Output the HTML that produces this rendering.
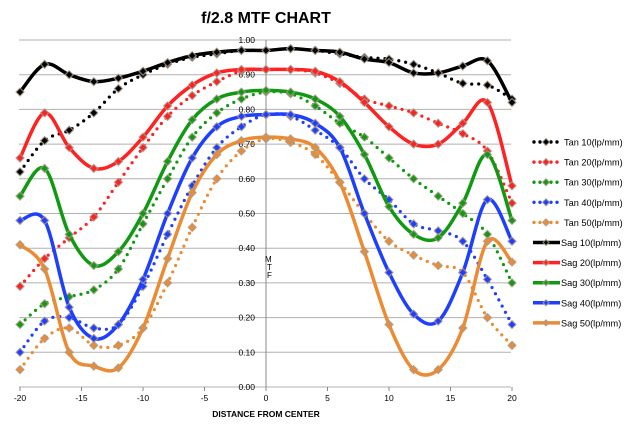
<!DOCTYPE html>
<html><head><meta charset="utf-8"><style>
body{margin:0;background:#fff;width:630px;height:429px;overflow:hidden;font-family:"Liberation Sans",sans-serif}
</style></head><body>
<svg id="s" width="630" height="429" xmlns="http://www.w3.org/2000/svg" font-family="Liberation Sans, sans-serif">
<text x="266" y="23" text-anchor="middle" font-size="16" font-weight="bold">f/2.8 MTF CHART</text>
<g id="grid"></g>
<g id="lines"></g>
<text x="266" y="417" text-anchor="middle" font-size="8.5" font-weight="bold">DISTANCE FROM CENTER</text>
<text x="265" y="262" font-size="8">M</text>
<text x="267" y="270" font-size="8">T</text>
<text x="267" y="278" font-size="8">F</text>
<g id="leg" font-size="9.2"></g>
</svg>
<script>
var NS="http://www.w3.org/2000/svg";
function el(t,a,p,txt){var e=document.createElementNS(NS,t);for(var k in a)e.setAttribute(k,a[k]);if(txt!=null)e.textContent=txt;p.appendChild(e);return e;}
function X(x){return 266+12.3*x;}function Y(v){return 387-347*v;}
var g=document.getElementById('grid');
for(var i=0;i<=10;i++){var y=Y(i/10);
 el('line',{x1:19,x2:511,y1:y,y2:y,stroke:'#b0b0b0','stroke-width':1},g);
 el('text',{x:255,y:y+3,'text-anchor':'end','font-size':'8.5'},g,(i/10).toFixed(2));}
el('line',{x1:266,x2:266,y1:40,y2:387,stroke:'#888','stroke-width':1},g);
for(var x=-20;x<=20;x+=5){el('line',{x1:X(x),x2:X(x),y1:387,y2:391,stroke:'#888'},g);
 el('text',{x:X(x),y:401,'text-anchor':'middle','font-size':'8.5'},g,String(x));}
var D={
t10:[.62,.71,.74,.79,.86,.90,.93,.95,.96,.97,.97,.975,.97,.96,.95,.945,.93,.905,.875,.87,.83],
t20:[.29,.37,.43,.49,.59,.69,.78,.84,.88,.91,.915,.915,.905,.875,.83,.81,.79,.76,.73,.68,.53],
t30:[.18,.24,.26,.28,.34,.47,.60,.72,.79,.83,.85,.845,.81,.76,.72,.66,.60,.55,.50,.44,.30],
t40:[.10,.19,.20,.17,.18,.29,.44,.58,.69,.75,.785,.78,.74,.69,.60,.54,.47,.45,.42,.31,.18],
t50:[.05,.14,.17,.12,.12,.17,.30,.46,.60,.68,.715,.705,.67,.59,.50,.42,.38,.35,.33,.20,.12],
s10:[.85,.93,.90,.88,.89,.91,.935,.955,.965,.97,.97,.975,.97,.965,.945,.935,.905,.905,.925,.94,.82],
s20:[.66,.79,.69,.63,.65,.72,.81,.87,.905,.915,.915,.915,.91,.88,.82,.75,.70,.70,.76,.82,.58],
s30:[.55,.63,.44,.35,.39,.50,.65,.77,.83,.85,.855,.85,.83,.78,.67,.52,.44,.43,.53,.67,.48],
s40:[.48,.48,.23,.14,.18,.31,.50,.66,.75,.78,.785,.785,.76,.69,.50,.33,.21,.19,.33,.54,.42],
s50:[.41,.34,.10,.06,.055,.17,.37,.56,.67,.71,.72,.715,.69,.59,.39,.18,.05,.05,.17,.42,.36]};
var C={1:'#000',2:'#f22',3:'#119911',4:'#1f3fff',5:'#eb8c35'};
function path(v){var p=v.map(function(y,i){return [X(-20+2*i),Y(y)];});var d='M'+p[0][0]+' '+p[0][1];
 for(var i=0;i<p.length-1;i++){var a=p[Math.max(0,i-1)],b=p[i],c=p[i+1],e=p[Math.min(p.length-1,i+2)];
 d+=' C'+(b[0]+(c[0]-a[0])/6)+' '+(b[1]+(c[1]-a[1])/6)+' '+(c[0]-(e[0]-b[0])/6)+' '+(c[1]-(e[1]-b[1])/6)+' '+c[0]+' '+c[1];}return d;}
var L=document.getElementById('lines');
function dia(x,y,col,p,r){el('path',{d:'M'+x+' '+(y-r)+'L'+(x+r)+' '+y+'L'+x+' '+(y+r)+'L'+(x-r)+' '+y+'Z',fill:col,stroke:'#a89a8c','stroke-width':1.2,'stroke-opacity':0.8},p);}
['t','s'].forEach(function(k){for(var n=5;n>=1;n--){var v=D[k+n*10],col=C[n];
 var a={d:path(v),fill:'none',stroke:col,'stroke-width':k=='s'?3.5:3.2,'stroke-linecap':'round'};
 if(k=='t'){a['stroke-dasharray']='0 7';}
 el('path',a,L);
 v.forEach(function(y,i){dia(X(-20+2*i),Y(y),col,L,4);});}});
var G=document.getElementById('leg');
for(var j=0;j<10;j++){var y=142+20.1*j,n=j%5+1,col=C[n];
 if(j<5){[534,540,551,557].forEach(function(x){el('circle',{cx:x,cy:y,r:1.7,fill:col},G);});dia(546,y,col,G,3.5);
  el('text',{x:564,y:y+3.5},G,'Tan '+n*10+'(lp/mm)');}
 else{el('line',{x1:533,x2:560,y1:y,y2:y,stroke:col,'stroke-width':3.5},G);dia(546,y,col,G,3);
  el('text',{x:561,y:y+3.5},G,'Sag '+n*10+'(lp/mm)');}}
</script>
</body></html>
